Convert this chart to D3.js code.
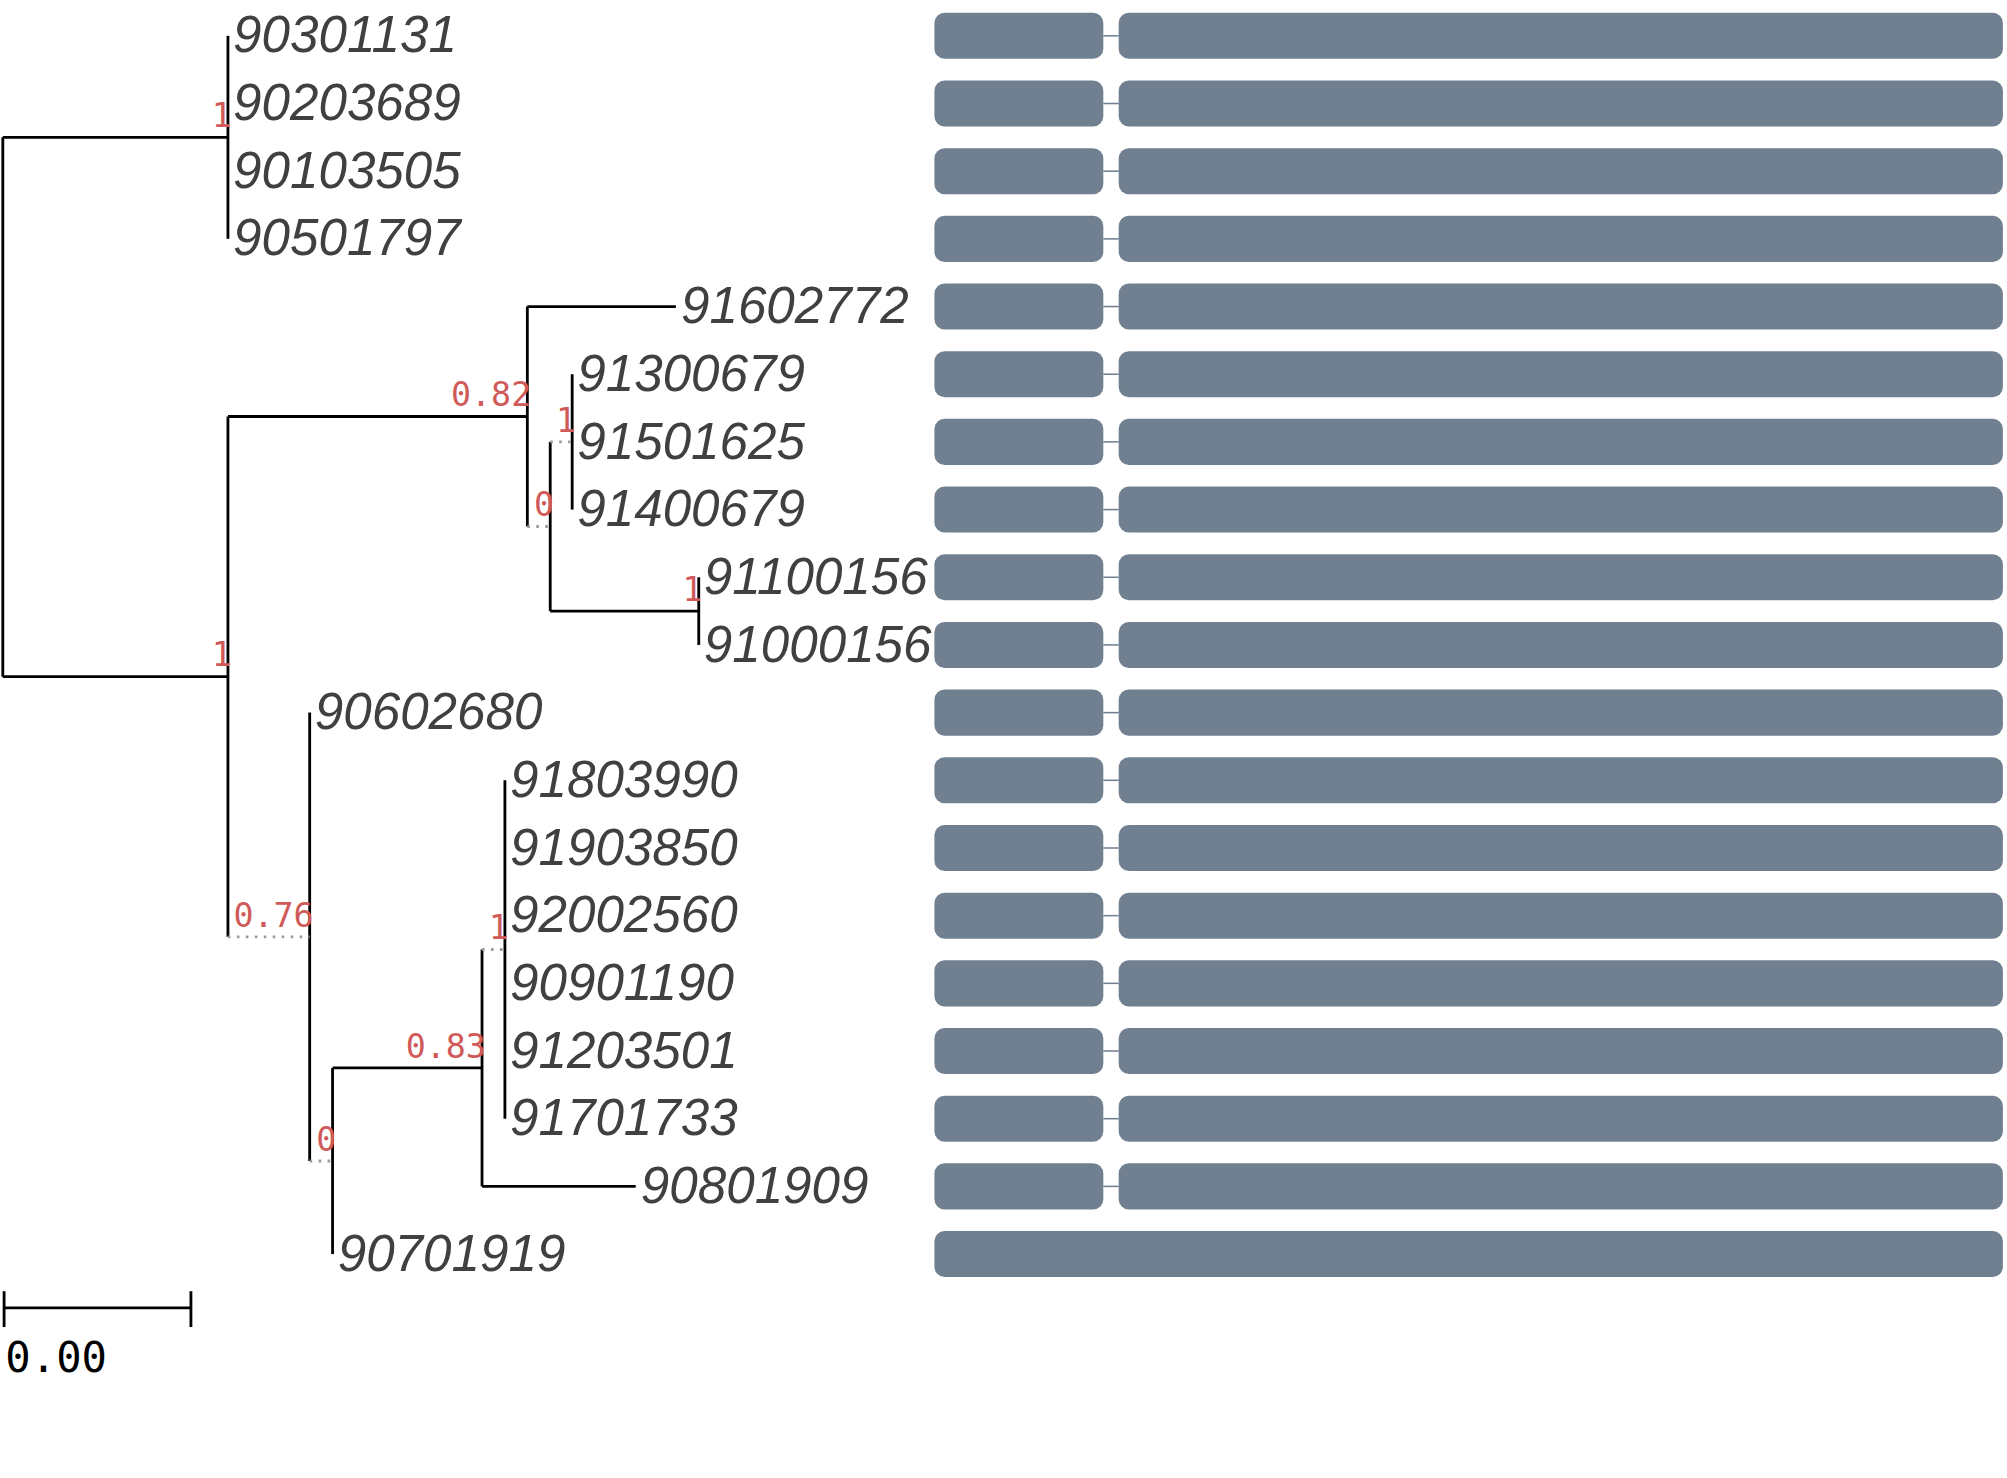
<!DOCTYPE html>
<html><head><meta charset="utf-8">
<script src="https://cdn.jsdelivr.net/npm/d3@7"></script>
<style>body{margin:0;background:#fff}</style>
</head><body>
<svg id="chart" width="2007" height="1478" viewBox="0 0 1568 1155"></svg>
<script>
// tree as parent table: id, parent, branch length, support
var nodeIds   = ["root","A","90301131","90203689","90103505","90501797","B","N082","91602772","N0a","N1a","91300679","91501625","91400679","N1b","91100156","91000156","N076","90602680","N0b","N083","N1c","91803990","91903850","92002560","90901190","91203501","91701733","90801909","90701919"];
var parentIds = ["","root","A","A","A","A","root","B","N082","N082","N0a","N1a","N1a","N1a","N0a","N1b","N1b","B","N076","N076","N0b","N083","N1c","N1c","N1c","N1c","N1c","N1c","N083","N0b"];
var branchLen = [0,0.00482,0,0,0,0,0.00482,0.00641,0.00318,0.00049,0.00047,0,0,0,0.00318,0,0,0.00175,0,0.00049,0.0032,0.00049,0,0,0,0,0,0,0.00329,0];
var support   = [null,"1",null,null,null,null,"1","0.82",null,"0",null,null,null,null,"1",null,null,"0.76",null,"0",null,"1",null,null,null,null,null,null,null,null];
var dottedBranches = ["N0a","N1a","N076","N0b","N1c"];
// separate: the 3-leaf node support "1"
support[nodeIds.indexOf("N1a")] = "1";
support[nodeIds.indexOf("N083")] = "0.83";

// domain segments per leaf (gene structure), positions in residues
var segsTwo = [[0,132],[144,835]];
var segsOne = [[0,835]];
var singleSegLeaves = ["90701919"];
var scaleBarValue = 0.004, scaleBarLabel = "0.00";

var svg = d3.select("#chart");
var rows = nodeIds.map(function(id,i){return {id:id,parent:parentIds[i]||null,len:branchLen[i],sup:support[i]};});
var root = d3.stratify().id(function(d){return d.id;}).parentId(function(d){return d.parent;})(rows);

var leaves = root.leaves();
var y = d3.scalePoint().domain(leaves.map(function(d){return d.id;})).range([28,980]);
var x = d3.scaleLinear().domain([0,scaleBarValue]).range([2,148]);

root.each(function(n){ n.dist = n.parent ? n.parent.dist + n.data.len : 0; });
root.eachAfter(function(n){
  if(!n.children) n.yy = y(n.id);
  else n.yy = (n.children[0].yy + n.children[n.children.length-1].yy)/2;
});

var g = svg.append("g");
// root stub
root.descendants().forEach(function(n){
  if(n.children){
    var ys = n.children.map(function(c){return c.yy;});
    g.append("line").attr("x1",x(n.dist)).attr("x2",x(n.dist))
      .attr("y1",d3.min(ys)).attr("y2",d3.max(ys))
      .attr("stroke","#000").attr("stroke-width",2.2);
  }
  if(n.parent && n.data.len>0){
    var dotted = dottedBranches.indexOf(n.id)>=0;
    g.append("line").attr("x1",x(n.parent.dist)).attr("x2",x(n.dist))
      .attr("y1",n.yy).attr("y2",n.yy)
      .attr("stroke",dotted?"#999":"#000").attr("stroke-width",2.2)
      .attr("stroke-dasharray",dotted?"2,5":null);
  }
});
// support labels
root.descendants().forEach(function(n){
  if(n.data.sup!=null){
    g.append("text").attr("x",x(n.dist)+3).attr("y",n.yy-8)
      .attr("text-anchor","end").attr("fill","#d05a5a")
      .attr("font-family","DejaVu Sans Mono").attr("font-size",26).text(n.data.sup);
  }
});
// leaf labels
leaves.forEach(function(n){
  g.append("text").attr("x",x(n.dist)+4).attr("y",n.yy+13)
    .attr("fill","#404040").attr("font-family","Liberation Sans")
    .attr("font-style","italic").attr("font-size",40).text(n.id);
});

// domain bars
var bx = d3.scaleLinear().domain([0,835]).range([730,1565]);
leaves.forEach(function(n){
  var segs = singleSegLeaves.indexOf(n.id)>=0 ? segsOne : segsTwo;
  if(segs.length>1){
    g.append("line").attr("x1",bx(segs[0][1])).attr("x2",bx(segs[1][0]))
      .attr("y1",n.yy).attr("y2",n.yy).attr("stroke","#708090").attr("stroke-width",1.2);
  }
  segs.forEach(function(s){
    g.append("rect").attr("x",bx(s[0])).attr("width",bx(s[1])-bx(s[0]))
      .attr("y",n.yy-18).attr("height",36).attr("rx",8)
      .attr("fill","#708090");
  });
});

// scale bar
var sb = svg.append("g");
sb.append("line").attr("x1",x(0)+1).attr("x2",x(scaleBarValue)+1).attr("y1",1022).attr("y2",1022).attr("stroke","#000").attr("stroke-width",2.2);
[0,scaleBarValue].forEach(function(v){
  sb.append("line").attr("x1",x(v)+1).attr("x2",x(v)+1).attr("y1",1009).attr("y2",1037).attr("stroke","#000").attr("stroke-width",2.2);
});
sb.append("text").attr("x",4).attr("y",1072).attr("font-family","DejaVu Sans Mono")
  .attr("font-size",33).attr("fill","#000").text(scaleBarLabel);
</script>
</body></html>
